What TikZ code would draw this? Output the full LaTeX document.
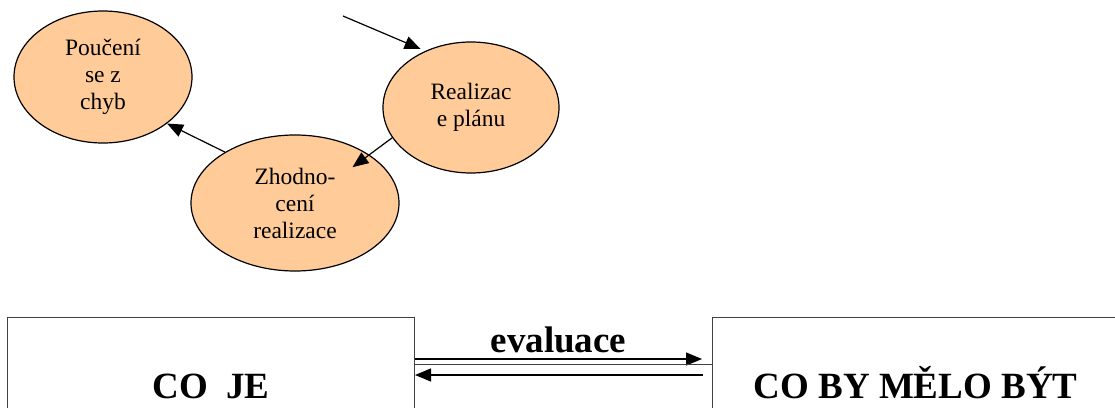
\documentclass[tikz,border=0pt]{standalone}
\usepackage{fontspec}
\setmainfont{Liberation Serif}
\usetikzlibrary{arrows.meta,shapes.geometric}
\definecolor{broskev}{HTML}{FFCC99}
\definecolor{ramecbarva}{HTML}{404040}
\begin{document}
\begin{tikzpicture}[x=1pt,y=-1pt, %jednotka = 1 pixel, osa y dolu
	kruh/.style={ellipse, draw, line width=1.2pt, fill=broskev, inner sep=0pt, align=center, font=\fontsize{23.5}{27}\selectfont},
	ramec/.style={rectangle, draw=ramecbarva, line width=1pt, anchor=north west, inner sep=0pt, minimum height=136pt, text height=25pt, text depth=0pt, font=\fontsize{37}{40}\selectfont\bfseries},
	sipka/.style={-{Triangle[length=16pt,width=13pt]}, line width=1.2pt}]
	\useasboundingbox (0,0) rectangle (1115,407); %okraje obrazku
		%Elipsy
	\node[kruh, minimum width=178pt, minimum height=132pt] (pouceni) at (103,77) {Poučení\\se z\\chyb};
	\node[kruh, minimum width=176pt, minimum height=131pt] (realizace) at (471,107.5) {Realizac\\e plánu};
	\node[kruh, minimum width=208pt, minimum height=136pt] (zhodnoceni) at (295,203) {Zhodno-\\cení\\realizace};
		%Sipky cyklu
	\coordinate (zacatek) at (343,16);
	\draw[sipka, shorten >=5pt] (zacatek) -- (realizace.129);
	\draw[sipka, shorten >=-21pt] (realizace.201) -- (zhodnoceni.33);
	\draw[sipka] (zhodnoceni.144) -- (pouceni.-36);
		%Ramecky
	\node[ramec, minimum width=407pt] (coje) at (7,317) {CO\ \ JE};
	\node[ramec, minimum width=406pt] (melo) at (712,317) {CO BY MĚLO BÝT};
		%Evaluace
	\draw[sipka] ([yshift=-42pt]coje.north east) -- node[above, inner sep=5pt, font=\fontsize{37}{40}\selectfont\bfseries] (evaluace) {evaluace} ([xshift=-10pt,yshift=-42pt]melo.north west);
	\draw[draw=ramecbarva, line width=1pt] ([yshift=-47pt]coje.north east) -- ([yshift=-47pt]melo.north west);
	\draw[sipka] ([xshift=-9pt,yshift=-58pt]melo.north west) -- ([yshift=-58pt]coje.north east);
\end{tikzpicture}
\end{document}
